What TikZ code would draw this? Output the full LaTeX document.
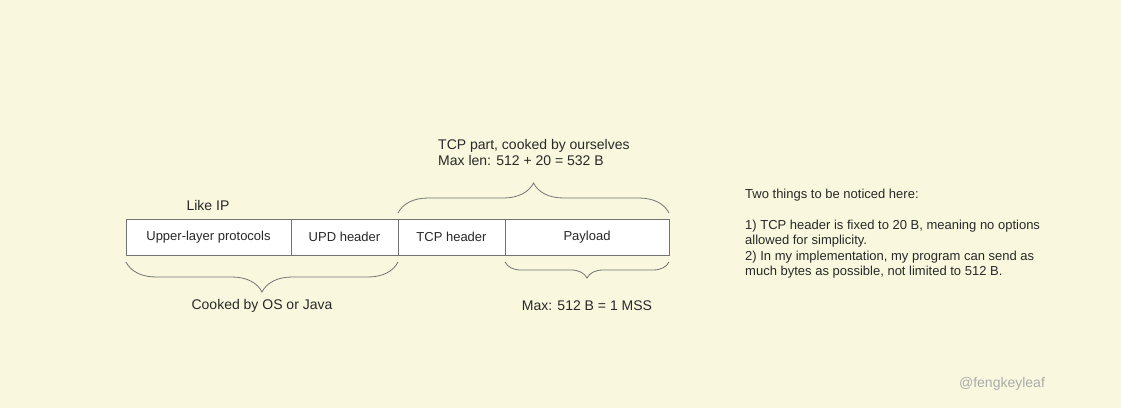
\documentclass[tikz,border=0pt]{standalone}
\usepackage{fontspec}
\setmainfont{Liberation Sans}
\usepackage{tikz}
\usetikzlibrary{positioning, decorations.pathreplacing}
\definecolor{PaperYellow}{RGB}{249,248,222}
\definecolor{EdgeGray}{RGB}{115,115,115}
\definecolor{InkGray}{RGB}{40,40,40}
\tikzset{
  segbox/.style={rectangle, draw=EdgeGray, fill=white, line width=0.9pt, minimum height=36pt, inner sep=0pt, outer sep=0pt, font=\fontsize{13}{15}\selectfont, text=InkGray},
  lbl/.style={font=\fontsize{14}{16}\selectfont, text=InkGray, inner sep=0pt},
  curly/.style={decorate, draw=EdgeGray, line width=0.8pt}
}

\begin{document}
\begin{tikzpicture}[x=1pt, y=-1pt]
                % Background
                \fill[PaperYellow] (0,0) rectangle (1121,408);
                \useasboundingbox (0,0) rectangle (1121,408);

                % Segments
                \node[segbox, minimum width=165pt, anchor=north west] (ulp) at (126,219) {Upper-layer protocols};
                \node[segbox, minimum width=107pt, right=0pt of ulp] (udp) {UPD header};
                \node[segbox, minimum width=107pt, right=0pt of udp] (tcp) {TCP header};
                \node[segbox, minimum width=164pt, right=0pt of tcp] (pay) {Payload};

                % Braces
                \draw[curly, decoration={brace, amplitude=30pt}] ([yshift=6pt]tcp.north west) -- ([yshift=6pt]pay.north east);
                \draw[curly, decoration={brace, mirror, amplitude=30pt}] ([yshift=-7pt]ulp.south west) -- ([yshift=-7pt]udp.south east);
                \draw[curly, decoration={brace, mirror, amplitude=16pt}] ([yshift=-7pt]pay.south west) -- ([yshift=-7pt]pay.south east);

                % Labels
                \node[lbl] (likeip) at (208,205) {Like IP};
                \node[lbl, align=left, anchor=north west] (tcppart) at (438,139.5) {TCP part, cooked by ourselves\\Max len: 512 + 20 = 532 B};
                \node[lbl] (byos) at (262,306) {Cooked by OS or Java};
                \node[lbl] (mss) at (587,306) {Max: 512 B = 1 MSS};

                % Notes
                \node[lbl, font=\fontsize{13}{15.5}\selectfont, align=left, anchor=north west] (notes) at (745,188.5) {Two things to be noticed here:\\[15.5pt]1) TCP header is fixed to 20 B, meaning no options\\allowed for simplicity.\\2) In my implementation, my program can send as\\much bytes as possible, not limited to 512 B.};
                \node[lbl, text=black!33] (mark) at (1002,384) {@fengkeyleaf};
\end{tikzpicture}
\end{document}
